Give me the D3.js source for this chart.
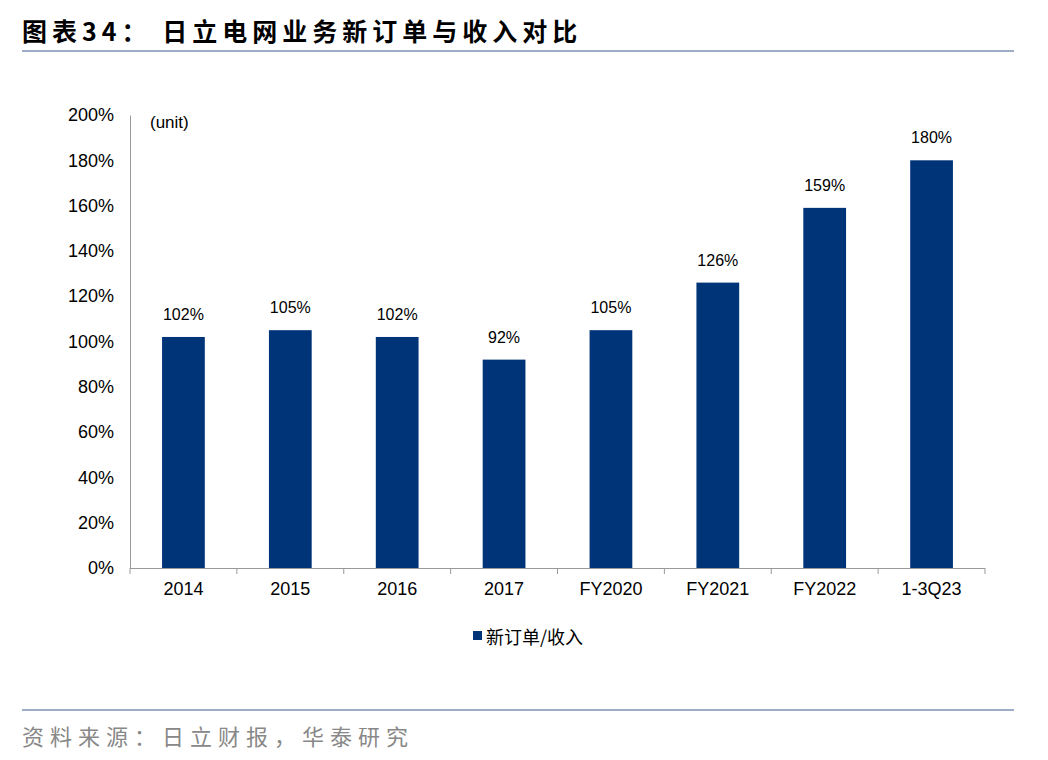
<!DOCTYPE html>
<html><head><meta charset="utf-8">
<script src="https://cdn.jsdelivr.net/npm/d3@7"></script>
<style>body{margin:0;background:#fff;}</style></head>
<body><svg id="c" width="1048" height="760"></svg>
<script>
const categories = ["2014","2015","2016","2017","FY2020","FY2021","FY2022","1-3Q23"];
const values = [102,105,102,92,105,126,159,180];
const yTicks = [0,20,40,60,80,100,120,140,160,180,200];

const svg = d3.select("#c");
const font = "Arial, 'Liberation Sans', sans-serif";
const cjk = "'Noto Sans CJK SC', sans-serif";
const L=130,R=985,T=115,B=568;
const x = d3.scaleBand().domain(categories).range([L,R]).paddingInner(0.6).paddingOuter(0.3);
const y = d3.scaleLinear().domain([0,200]).range([B,T]);

svg.append("text").attr("x",22).attr("y",41).attr("font-family",cjk).attr("font-weight","bold")
  .attr("font-size",25).attr("letter-spacing",5).attr("fill","#000").text("图表34：  日立电网业务新订单与收入对比");
svg.append("line").attr("x1",22).attr("x2",1014).attr("y1",51).attr("y2",51).attr("stroke","#7f93b5").attr("stroke-width",1.5);
svg.append("line").attr("x1",22).attr("x2",1014).attr("y1",710).attr("y2",710).attr("stroke","#7f93b5").attr("stroke-width",1.5);
svg.append("text").attr("x",22).attr("y",745).attr("font-family",cjk).attr("font-size",22).attr("letter-spacing",6)
  .attr("fill","#888").text("资料来源：日立财报，华泰研究");

const ya = svg.append("g").attr("transform",`translate(${L},0)`)
  .call(d3.axisLeft(y).tickValues(yTicks).tickFormat(d=>d+"%").tickSize(0).tickPadding(16));
ya.select(".domain").attr("stroke","#999");
ya.selectAll("text").attr("font-family",font).attr("font-size",18).attr("fill","#000");

const xa = svg.append("g").attr("transform",`translate(0,${B})`)
  .call(d3.axisBottom(x).tickSize(0).tickPadding(14));
xa.select(".domain").attr("stroke","#999").attr("d",`M${L},0.5H${R}`);
xa.selectAll("text").attr("font-family",font).attr("font-size",18).attr("fill","#000");
d3.range(categories.length+1).forEach(i=>{
  const xx = L + (R-L)/categories.length*i;
  xa.append("line").attr("x1",xx).attr("x2",xx).attr("y1",0).attr("y2",6).attr("stroke","#999");
});

svg.selectAll("rect.bar").data(values).join("rect").attr("class","bar")
  .attr("x",(d,i)=>x(categories[i])).attr("width",x.bandwidth())
  .attr("y",d=>y(d)).attr("height",d=>B-y(d)).attr("fill","#003478");
svg.selectAll("text.lab").data(values).join("text").attr("class","lab")
  .attr("x",(d,i)=>x(categories[i])+x.bandwidth()/2).attr("y",d=>y(d)-17)
  .attr("text-anchor","middle").attr("font-family",font).attr("font-size",16).text(d=>d+"%");

svg.append("text").attr("x",150).attr("y",128).attr("font-family",font).attr("font-size",17).text("(unit)");
svg.append("rect").attr("x",473).attr("y",631).attr("width",9).attr("height",9).attr("fill","#003478");
svg.append("text").attr("x",486).attr("y",644).attr("font-family",cjk).attr("font-size",18).text("新订单/收入");
</script></body></html>
